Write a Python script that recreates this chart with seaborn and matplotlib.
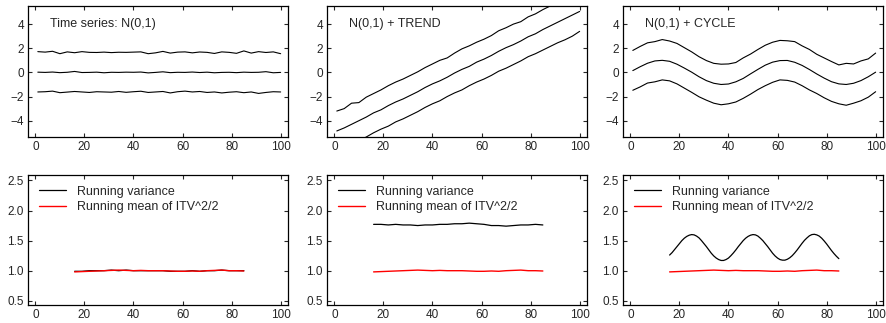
import numpy as np
import seaborn as sns
import matplotlib
matplotlib.use("Agg")
import matplotlib.pyplot as plt

# ---- data ----
x_top = np.arange(1, 101, 3)

mid1 = [0.02, 0.0, 0.03, -0.02, 0.01, 0.08, -0.01, 0.0, 0.02, -0.03, 0.01, 0.0, 0.02, 0.01, 0.03, -0.04, 0.0,
        0.05, -0.02, 0.01, 0.0, 0.03, -0.01, 0.02, -0.03, 0.0, 0.01, -0.02, 0.02, 0.0, 0.01, 0.06, -0.03, 0.0]
up1 = [1.72, 1.68, 1.75, 1.55, 1.7, 1.63, 1.72, 1.66, 1.65, 1.68, 1.64, 1.67, 1.66, 1.68, 1.7, 1.55, 1.62,
       1.74, 1.6, 1.68, 1.7, 1.62, 1.69, 1.66, 1.57, 1.7, 1.66, 1.58, 1.78, 1.6, 1.72, 1.65, 1.7, 1.55]
lo1 = [-1.62, -1.6, -1.55, -1.68, -1.63, -1.58, -1.62, -1.66, -1.6, -1.62, -1.64, -1.58, -1.65, -1.6, -1.56,
       -1.66, -1.62, -1.58, -1.7, -1.6, -1.55, -1.62, -1.58, -1.66, -1.62, -1.7, -1.64, -1.6, -1.68, -1.62,
       -1.74, -1.66, -1.6, -1.62]

mid2 = [-4.85, -4.6, -4.3, -4.0, -3.7, -3.35, -3.1, -2.75, -2.45, -2.2, -1.9, -1.6, -1.25, -0.95, -0.7, -0.4,
        -0.05, 0.25, 0.5, 0.85, 1.1, 1.4, 1.75, 2.05, 2.3, 2.6, 2.95, 3.2, 3.55, 3.85, 4.15, 4.45, 4.75, 5.05]
up2 = [-3.2, -3.0, -2.55, -2.5, -2.05, -1.75, -1.45, -1.1, -0.8, -0.55, -0.25, 0.05, 0.4, 0.7, 1.0, 1.2,
       1.6, 1.95, 2.2, 2.5, 2.75, 3.05, 3.45, 3.7, 4.0, 4.2, 4.6, 4.85, 5.2, 5.5, 5.8, 6.1, 6.4, 6.7]
lo2 = [-6.5, -6.25, -5.95, -5.65, -5.35, -5.0, -4.7, -4.45, -4.1, -3.85, -3.55, -3.25, -2.9, -2.6, -2.35,
       -2.0, -1.7, -1.45, -1.1, -0.8, -0.55, -0.25, 0.1, 0.35, 0.65, 0.95, 1.3, 1.55, 1.85, 2.15, 2.45,
       2.7, 3.0, 3.4]

mid3 = [0.15, 0.47, 0.76, 0.95, 1.0, 0.92, 0.68, 0.36, 0.02, -0.36, -0.68, -0.9, -1.0, -0.96, -0.78, -0.5,
        -0.12, 0.25, 0.6, 0.85, 0.98, 0.99, 0.84, 0.58, 0.24, -0.13, -0.47, -0.77, -0.95, -1.0, -0.9, -0.68,
        -0.36, 0.02]
up3 = [1.82, 2.15, 2.45, 2.55, 2.72, 2.6, 2.4, 2.05, 1.7, 1.3, 0.98, 0.75, 0.68, 0.7, 0.82, 1.2, 1.52, 1.9,
       2.25, 2.5, 2.65, 2.62, 2.55, 2.2, 1.9, 1.5, 1.2, 0.9, 0.62, 0.75, 0.7, 0.95, 1.12, 1.6]
lo3 = [-1.48, -1.2, -0.88, -0.78, -0.62, -0.7, -0.95, -1.3, -1.65, -2.02, -2.3, -2.55, -2.68, -2.6, -2.45,
       -2.15, -1.8, -1.42, -1.1, -0.82, -0.62, -0.66, -0.8, -1.1, -1.45, -1.75, -2.1, -2.4, -2.6, -2.72,
       -2.55, -2.35, -2.05, -1.6]

x_run = np.arange(16, 86, 3)
var1 = [0.99, 0.99, 1.0, 1.0, 1.0, 1.01, 1.0, 1.01, 1.0, 1.0, 1.0, 1.0, 1.0, 0.99, 0.99, 0.99, 1.0, 0.99,
        1.0, 1.0, 1.01, 1.0, 1.0, 1.0]
var2 = [1.77, 1.77, 1.76, 1.77, 1.76, 1.76, 1.75, 1.76, 1.76, 1.77, 1.77, 1.78, 1.78, 1.79, 1.78, 1.77,
        1.75, 1.75, 1.74, 1.75, 1.76, 1.76, 1.77, 1.76]
itv_mean = [0.98, 0.985, 0.99, 0.995, 1.0, 1.005, 1.01, 1.005, 1.0, 1.005, 1.0, 1.0, 1.0, 0.995, 0.99,
            0.99, 0.995, 0.99, 1.0, 1.005, 1.01, 1.0, 1.0, 0.995]

x_var3 = np.arange(16, 86)
var3 = [1.26, 1.30, 1.35, 1.40, 1.45, 1.50, 1.54, 1.57, 1.59, 1.60, 1.595, 1.575, 1.545, 1.50, 1.45, 1.40,
        1.345, 1.29, 1.245, 1.21, 1.185, 1.17, 1.17, 1.185, 1.21, 1.25, 1.295, 1.345, 1.40, 1.45, 1.50,
        1.54, 1.57, 1.59, 1.60, 1.595, 1.575, 1.54, 1.50, 1.45, 1.40, 1.345, 1.29, 1.245, 1.21, 1.185,
        1.175, 1.175, 1.19, 1.215, 1.25, 1.295, 1.345, 1.40, 1.455, 1.505, 1.545, 1.58, 1.60, 1.605,
        1.595, 1.575, 1.54, 1.495, 1.445, 1.39, 1.335, 1.285, 1.24, 1.20]

titles = ["Time series: N(0,1)", "N(0,1) + TREND", "N(0,1) + CYCLE"]
top_series = [(mid1, up1, lo1), (mid2, up2, lo2), (mid3, up3, lo3)]
bottom_var = [(x_run, var1), (x_run, var2), (x_var3, var3)]

sns.set_theme(style="ticks")
plt.rcParams['font.family'] = ['Liberation Sans', 'DejaVu Sans']
plt.rcParams.update({
    'font.size': 9,
    'xtick.direction': 'in', 'ytick.direction': 'in',
    'xtick.top': True, 'ytick.right': True,
    'xtick.major.size': 3, 'ytick.major.size': 3,
    'xtick.major.width': 0.8, 'ytick.major.width': 0.8,
    'xtick.major.pad': 3, 'ytick.major.pad': 3,
    'xtick.labelsize': 8.5, 'ytick.labelsize': 8.5,
    'axes.linewidth': 0.9, 'axes.edgecolor': 'black',
})

fig = plt.figure(figsize=(8.86, 3.23), dpi=100)
lefts = [28 / 886, 327 / 886, 623 / 886]
w = 260 / 886

for i in range(3):
    ax = fig.add_axes([lefts[i], 1 - 137 / 323, w, 131 / 323])
    for ys in top_series[i]:
        sns.lineplot(x=x_top, y=ys, ax=ax, color='black', lw=0.8)
    ax.set_xlim(-3, 103)
    ax.set_ylim(-5.35, 5.5)
    ax.set_xticks([0, 20, 40, 60, 80, 100])
    ax.set_yticks([-4, -2, 0, 2, 4])
    ax.set_yticklabels(['\u22124', '\u22122', '0', '2', '4'])
    ax.text(0.085, 0.86, titles[i], transform=ax.transAxes, fontsize=9, va='center', ha='left')

    ax2 = fig.add_axes([lefts[i], 1 - 305 / 323, w, 130 / 323])
    xv, yv = bottom_var[i]
    sns.lineplot(x=xv, y=yv, ax=ax2, color='black', lw=0.9, label='Running variance')
    sns.lineplot(x=x_run, y=itv_mean, ax=ax2, color='red', lw=1.0, label='Running mean of ITV^2/2')
    ax2.set_xlim(-3, 103)
    ax2.set_ylim(0.43, 2.59)
    ax2.set_xticks([0, 20, 40, 60, 80, 100])
    ax2.set_yticks([0.5, 1.0, 1.5, 2.0, 2.5])
    ax2.set_yticklabels(['0.5', '1.0', '1.5', '2.0', '2.5'])
    ax2.legend(loc='upper left', bbox_to_anchor=(0.01, 0.985), frameon=False, fontsize=9,
               handlelength=2.1, handletextpad=0.9, labelspacing=0.3, borderaxespad=0.3)

fig.savefig("out.png", dpi=100)
